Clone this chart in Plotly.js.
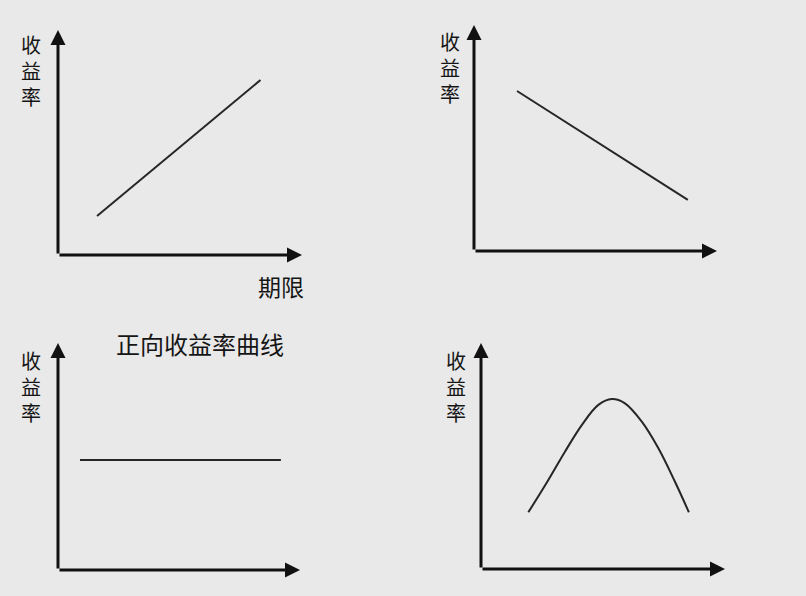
<!DOCTYPE html>
<html>
<head>
<meta charset="utf-8">
<script src="https://cdn.plot.ly/plotly-3.0.1.min.js"></script>
<style>html,body{margin:0;padding:0;background:#e9e9e9;}#chart{width:806px;height:596px;}</style>
</head>
<body>
<div id="chart"></div>
<script>
// Panel 1: 正向 (rising)
const risingX = [1.6, 8.3];
const risingY = [1.73, 7.78];
// Panel 2: falling
const fallingX = [1.77, 8.8];
const fallingY = [7.08, 2.26];
// Panel 3: flat
const flatX = [0.91, 9.21];
const flatY = [4.85, 4.85];
// Panel 4: humped
const humpX = [1.94, 2.76, 3.44, 4.13, 4.81, 5.36, 5.90, 6.59, 7.27, 7.95, 8.52];
const humpY = [2.51, 3.94, 5.19, 6.37, 7.26, 7.52, 7.33, 6.52, 5.34, 3.86, 2.51];

const yLabel = '收<br>益<br>率';
const xLabel = '期限';
const captionText = '正向收益率曲线';

const W = 806, H = 596;
const FONT = '"Liberation Sans", "Noto Sans CJK SC", sans-serif';
const panels = [
  {x0: 58, x1: 302, y0: 255, y1: 30, xs: risingX, ys: risingY, shape: 'linear', lab: [31, 72]},
  {x0: 474, x1: 717, y0: 251, y1: 25, xs: fallingX, ys: fallingY, shape: 'linear', lab: [450, 69]},
  {x0: 58, x1: 300, y0: 570, y1: 343, xs: flatX, ys: flatY, shape: 'linear', lab: [31, 388]},
  {x0: 481, x1: 725, y0: 569, y1: 343, xs: humpX, ys: humpY, shape: 'spline', lab: [456, 388]}
];

const traces = [];
const layout = {
  width: W, height: H,
  margin: {l: 0, r: 0, t: 0, b: 0},
  paper_bgcolor: '#e9e9e9',
  plot_bgcolor: 'rgba(0,0,0,0)',
  showlegend: false,
  font: {family: FONT, color: '#151515'},
  annotations: []
};
const axStyle = {showgrid: false, zeroline: false, showline: false, showticklabels: false, ticks: '', range: [0, 10], fixedrange: true};

panels.forEach((p, i) => {
  const n = i === 0 ? '' : String(i + 1);
  const xa = 'x' + n, ya = 'y' + n;
  layout['xaxis' + n] = Object.assign({}, axStyle, {domain: [p.x0 / W, p.x1 / W], anchor: ya});
  layout['yaxis' + n] = Object.assign({}, axStyle, {domain: [1 - p.y0 / H, 1 - p.y1 / H], anchor: xa});
  traces.push({
    type: 'scatter', mode: 'lines', x: p.xs, y: p.ys, xaxis: xa, yaxis: ya,
    line: {color: '#262626', width: 2, shape: p.shape, smoothing: 1}, hoverinfo: 'skip'
  });
  // axis arrows
  layout.annotations.push({
    xref: xa, yref: ya, axref: xa, ayref: ya, x: 0, y: 10, ax: 0, ay: 0,
    text: '', showarrow: true, arrowhead: 2, arrowsize: 1, arrowwidth: 3, arrowcolor: '#111', standoff: 0
  });
  layout.annotations.push({
    xref: xa, yref: ya, axref: xa, ayref: ya, x: 10, y: 0, ax: 0, ay: 0,
    text: '', showarrow: true, arrowhead: 2, arrowsize: 1, arrowwidth: 3, arrowcolor: '#111', standoff: 0
  });
  // y label
  layout.annotations.push({
    xref: 'paper', yref: 'paper', x: p.lab[0] / W, y: 1 - p.lab[1] / H,
    xanchor: 'center', yanchor: 'middle', showarrow: false,
    text: yLabel, font: {family: FONT, size: 20, color: '#151515'}
  });
});

layout.annotations.push({
  xref: 'paper', yref: 'paper', x: 281 / W, y: 1 - 288 / H, xanchor: 'center', yanchor: 'middle',
  showarrow: false, text: xLabel, font: {family: FONT, size: 23, color: '#151515'}
});
layout.annotations.push({
  xref: 'paper', yref: 'paper', x: 200 / W, y: 1 - 345 / H, xanchor: 'center', yanchor: 'middle',
  showarrow: false, text: captionText, font: {family: FONT, size: 24, color: '#151515'}
});

Plotly.newPlot('chart', traces, layout, {displayModeBar: false, staticPlot: true});
</script>
</body>
</html>
